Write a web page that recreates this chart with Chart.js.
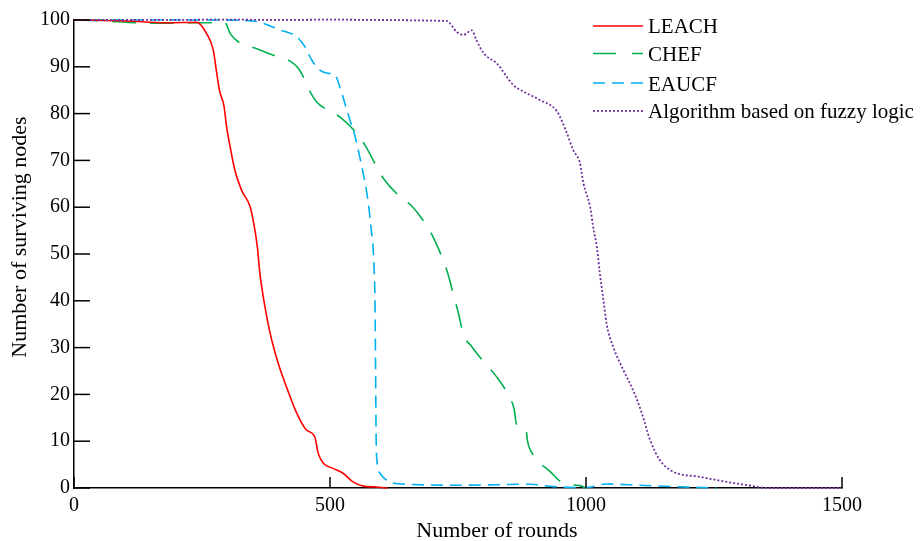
<!DOCTYPE html>
<html>
<head>
<meta charset="utf-8">
<script src="https://cdn.jsdelivr.net/npm/chart.js@4.4.1/dist/chart.umd.min.js"></script>
<style>
  html, body { margin: 0; padding: 0; background: #fff; }
  #wrap { width: 921px; height: 541px; position: relative; }
</style>
</head>
<body>
<div id="wrap"><canvas id="c" width="921" height="541"></canvas></div>
<script>
// ---------------- data ----------------
const seriesNames = ["LEACH", "CHEF", "EAUCF", "Algorithm based on fuzzy logic"];
const xTickValues = [0, 500, 1000, 1500];
const yTickValues = [0, 10, 20, 30, 40, 50, 60, 70, 80, 90, 100];

const leachX = [0, 100, 180, 240, 259, 272, 277, 284, 293, 298, 305, 314, 327, 344, 351, 358, 363, 373, 383, 399, 415, 435, 454, 470, 477, 487, 506, 526, 545, 565, 590, 613];
const leachY = [100, 99.8, 99.4, 99.5, 97.1, 93.6, 90, 85, 81.6, 77.2, 72.9, 68, 63.7, 60.1, 56.6, 51.6, 45.9, 38.7, 33.1, 26.6, 21.6, 16, 12.4, 11, 7.4, 5.3, 4.2, 3.1, 1.3, 0.4, 0.2, 0];

const chefX = [0, 60, 120, 190, 230, 295, 305, 324, 350, 396, 422, 438, 451, 461, 474, 493, 519, 552, 568, 591, 604, 637, 660, 688, 702, 721, 731, 742, 751, 760, 777, 803, 825, 848, 860, 864, 874, 883, 886, 897, 930, 956, 988, 1000];
const chefY = [100, 99.8, 99.4, 99.3, 99.4, 99.4, 97.1, 95.1, 94.1, 92.2, 91.2, 89.7, 87.2, 84.7, 82.5, 80.9, 79.3, 75.8, 73.3, 68.7, 66.2, 62.2, 60.2, 56.2, 53.5, 48.7, 45.5, 40.9, 37.3, 33, 30.2, 26.6, 23.8, 19.9, 16.7, 13.7, 13.5, 12.4, 9.9, 7.1, 3.5, 1.0, 0.5, 0];

const eaucfX = [0, 250, 330, 360, 402, 435, 451, 464, 480, 497, 510, 520, 529, 539, 549, 562, 572, 580, 586, 588, 589, 590, 591, 598, 617, 650, 760, 890, 936, 1000, 1040, 1105, 1170, 1255];
const eaucfY = [100, 100, 99.9, 99.6, 97.9, 96.4, 94.3, 91.5, 89.3, 88.6, 88.2, 85.4, 82.2, 78.6, 75.1, 68.7, 63, 55.8, 47.3, 38.7, 25.9, 11.7, 6.7, 3.1, 1.3, 0.8, 0.6, 0.8, 0.3, 0.1, 0.85, 0.6, 0.3, 0];

const fuzzyX = [0, 300, 500, 728, 747, 760, 777, 786, 800, 826, 858, 878, 910, 943, 962, 975, 988, 995, 1008, 1014, 1022, 1027, 1034, 1040, 1053, 1073, 1092, 1109, 1125, 1144, 1170, 1222, 1275, 1327, 1353, 1500];
const fuzzyY = [100, 100.1, 100.1, 99.8, 97.5, 96.8, 97.8, 95.7, 92.9, 90.7, 86.1, 84.7, 82.9, 80.5, 76, 72.2, 69.5, 65.1, 60.1, 55.8, 50.9, 45.9, 40.2, 35.2, 30.2, 25.2, 20.9, 16, 10.3, 6, 3.5, 2.4, 1.3, 0.4, 0, 0];

const seriesColors = ["#ff0000", "#00b050", "#00b0f0", "#7030a0"];
const seriesDashes = [[], [24, 14], [12, 7], [2, 2]];

// ---------------- build ----------------
function pts(xs, ys) { return xs.map((x, i) => ({ x: x, y: ys[i] })); }
const FONT = '"Liberation Serif", "Times New Roman", serif';

const allX = [leachX, chefX, eaucfX, fuzzyX];
const allY = [leachY, chefY, eaucfY, fuzzyY];
const drawOrder = [1, 2, 3, 0];

const datasets = seriesNames.map((n, i) => ({
  label: n,
  data: pts(allX[i], allY[i]),
  borderColor: seriesColors[i],
  backgroundColor: seriesColors[i],
  borderDash: seriesDashes[i],
  borderWidth: i === 3 ? 1.8 : 1.6,
  pointRadius: 0,
  cubicInterpolationMode: 'monotone',
  fill: false,
  clip: false,
  order: drawOrder[i]
}));

const overlay = {
  id: 'overlay',
  afterDraw(chart) {
    const ctx = chart.ctx, a = chart.chartArea;
    const xs = chart.scales.x, ys = chart.scales.y;
    ctx.save();
    // inward ticks
    ctx.strokeStyle = '#000';
    ctx.lineWidth = 1.5;
    ctx.setLineDash([]);
    yTickValues.forEach(v => {
      const p = ys.getPixelForValue(v);
      ctx.beginPath(); ctx.moveTo(a.left, p); ctx.lineTo(a.left + 16, p); ctx.stroke();
    });
    xTickValues.forEach(v => {
      const p = xs.getPixelForValue(v);
      ctx.beginPath(); ctx.moveTo(p, a.bottom); ctx.lineTo(p, a.bottom - 11); ctx.stroke();
    });
    // axis titles
    ctx.fillStyle = '#000';
    ctx.font = '22px ' + FONT;
    ctx.textAlign = 'center';
    ctx.textBaseline = 'alphabetic';
    ctx.fillText('Number of rounds', 497, 537);
    ctx.save();
    ctx.translate(26, 237);
    ctx.rotate(-Math.PI / 2);
    ctx.fillText('Number of surviving nodes', 0, 0);
    ctx.restore();
    // legend
    const rowsY = [26, 53.5, 83, 111];
    const baseY = [33.3, 61, 90.5, 117.5];
    ctx.font = '21px ' + FONT;
    ctx.textAlign = 'left';
    seriesNames.forEach((n, i) => {
      ctx.strokeStyle = seriesColors[i];
      ctx.lineWidth = i === 3 ? 1.8 : 1.6;
      ctx.setLineDash(i === 1 ? [23, 16] : seriesDashes[i]);
      ctx.beginPath(); ctx.moveTo(593, rowsY[i]); ctx.lineTo(643, rowsY[i]); ctx.stroke();
      ctx.setLineDash([]);
      ctx.fillStyle = '#000';
      ctx.fillText(n, 648, baseY[i]);
    });
    ctx.restore();
  }
};

new Chart(document.getElementById('c'), {
  type: 'line',
  data: { datasets: datasets },
  options: {
    responsive: false,
    animation: false,
    layout: { padding: { left: 0, right: 79, top: 20, bottom: 0 } },
    plugins: { legend: { display: false }, tooltip: { enabled: false } },
    scales: {
      x: {
        type: 'linear', min: 0, max: 1500,
        afterFit(s) { s.height = 53; },
        afterBuildTicks(s) { s.ticks = xTickValues.map(v => ({ value: v })); },
        ticks: { color: '#000', font: { family: FONT, size: 20 }, padding: 6, maxRotation: 0,
                 callback: v => String(v) },
        grid: { display: true, drawOnChartArea: false, drawTicks: false },
        border: { display: true, color: '#000', width: 1.5 }
      },
      y: {
        type: 'linear', min: 0, max: 100,
        afterFit(s) { s.width = 74; },
        afterBuildTicks(s) { s.ticks = yTickValues.map(v => ({ value: v })); },
        ticks: { color: '#000', font: { family: FONT, size: 20 }, padding: 4,
                 callback: v => String(v) },
        grid: { display: true, drawOnChartArea: false, drawTicks: false },
        border: { display: true, color: '#000', width: 1.5 }
      }
    }
  },
  plugins: [overlay]
});
</script>
</body>
</html>
